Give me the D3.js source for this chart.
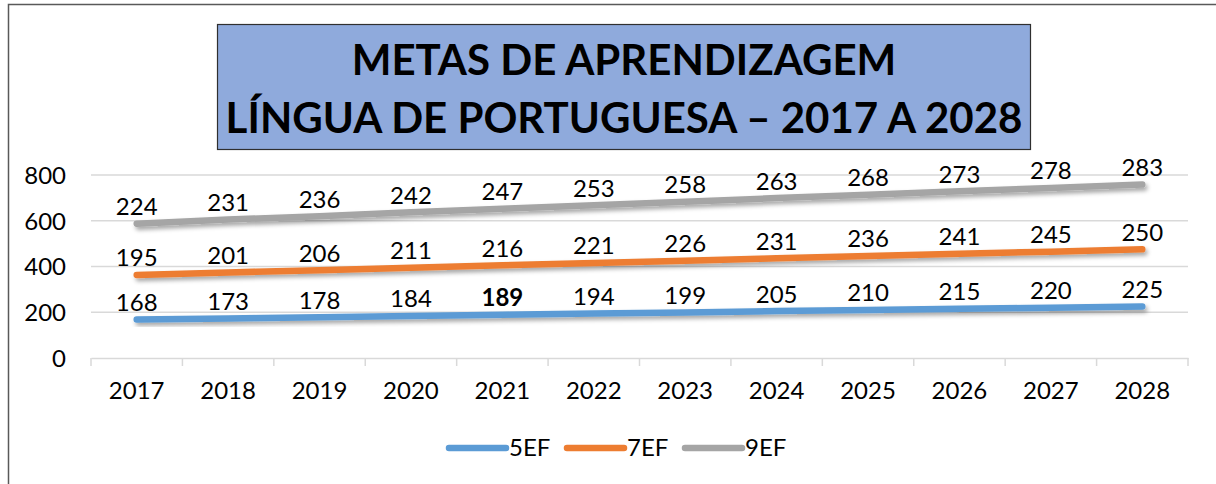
<!DOCTYPE html>
<html>
<head>
  <meta charset="utf-8">
  <title>Metas de Aprendizagem - Língua Portuguesa</title>
  <style>
    html, body { margin: 0; padding: 0; background: #fff; overflow: hidden; }
    text { font-family: Lato, "Open Sans", sans-serif; fill: #000; }
    .grid line { stroke: #D9D9D9; stroke-width: 1.5px; }
  </style>
</head>
<body>
  <svg id="chart" width="1216" height="484"></svg>
  <script src="https://d3js.org/d3.v7.min.js"></script>
  <script>
    // Chart data
    const years = ["2017", "2018", "2019", "2020", "2021", "2022", "2023", "2024", "2025", "2026", "2027", "2028"];
    const seriesNames = ["5EF", "7EF", "9EF"];
    const values5EF = [168, 173, 178, 184, 189, 194, 199, 205, 210, 215, 220, 225];
    const values7EF = [195, 201, 206, 211, 216, 221, 226, 231, 236, 241, 245, 250];
    const values9EF = [224, 231, 236, 242, 247, 253, 258, 263, 268, 273, 278, 283];
    const yTicks = [0, 200, 400, 600, 800];
    const titleLines = ["METAS DE APRENDIZAGEM", "LÍNGUA DE PORTUGUESA – 2017 A 2028"];
    const colors = ["#5B9BD5", "#ED7D31", "#A5A5A5"];

    const fontSize = "24px";
    const svg = d3.select("#chart");

    // outer chart frame
    svg.append("rect")
      .attr("x", 8.5).attr("y", 4.5)
      .attr("width", 1230).attr("height", 500)
      .attr("fill", "#fff")
      .attr("stroke", "#595959")
      .attr("stroke-width", 1.5);

    // shadow filter for lines
    const defs = svg.append("defs");
    const f = defs.append("filter").attr("id", "shadow")
      .attr("x", "-5%").attr("y", "-50%").attr("width", "110%").attr("height", "200%");
    f.append("feDropShadow")
      .attr("dx", 2).attr("dy", 3).attr("stdDeviation", 2)
      .attr("flood-color", "#000").attr("flood-opacity", 0.35);

    // title box
    svg.append("rect")
      .attr("x", 217.5).attr("y", 24.5)
      .attr("width", 813).attr("height", 125)
      .attr("fill", "#8FAADC")
      .attr("stroke", "#2F2F2F")
      .attr("stroke-width", 1.2);

    titleLines.forEach((t, i) => {
      svg.append("text")
        .attr("x", 624)
        .attr("y", 75 + i * 58)
        .attr("text-anchor", "middle")
        .style("font-size", "42px")
        .style("font-weight", "bold")
        .text(t);
    });

    // scales
    const x = d3.scaleBand().domain(years).range([91, 1188]);
    const y = d3.scaleLinear().domain([0, 800]).range([358, 175]);

    // gridlines
    svg.append("g").attr("class", "grid")
      .selectAll("line")
      .data(yTicks.filter(d => d > 0))
      .join("line")
      .attr("x1", 91).attr("x2", 1188)
      .attr("y1", d => y(d)).attr("y2", d => y(d));

    // y axis labels
    const yAxis = svg.append("g")
      .attr("transform", "translate(66,0)")
      .call(d3.axisLeft(y).tickValues(yTicks).tickSize(0).tickPadding(0));
    yAxis.select(".domain").remove();
    yAxis.selectAll("text")
      .style("font-size", fontSize)
      .style("font-family", "Lato, sans-serif")
      .attr("dy", "0.35em");

    // x axis
    const xAxis = svg.append("g")
      .attr("transform", "translate(0,358)")
      .call(d3.axisBottom(x).tickSize(0).tickPadding(24));
    xAxis.select(".domain").attr("stroke", "#D9D9D9").attr("stroke-width", 1.5);
    xAxis.selectAll("text")
      .style("font-size", fontSize)
      .style("font-family", "Lato, sans-serif");
    // tick marks at band boundaries
    const bounds = years.map(d => x(d)).concat([x.range()[1]]);
    xAxis.selectAll("line.bound")
      .data(bounds)
      .join("line")
      .attr("class", "bound")
      .attr("x1", d => d).attr("x2", d => d)
      .attr("y1", 0).attr("y2", 8)
      .attr("stroke", "#D9D9D9").attr("stroke-width", 1.5);

    // stacked series
    const table = years.map((yr, i) => ({
      year: yr, "5EF": values5EF[i], "7EF": values7EF[i], "9EF": values9EF[i]
    }));
    const stacked = d3.stack().keys(seriesNames)(table);

    const line = d3.line()
      .x(d => x(d.data.year) + x.bandwidth() / 2)
      .y(d => y(d[1]));

    svg.append("g")
      .selectAll("path")
      .data(stacked)
      .join("path")
      .attr("d", d => line(d))
      .attr("fill", "none")
      .attr("stroke", (d, i) => colors[i])
      .attr("stroke-width", 6.5)
      .attr("stroke-linecap", "round")
      .attr("filter", "url(#shadow)");

    // data labels
    stacked.forEach(s => {
      svg.append("g")
        .selectAll("text")
        .data(s)
        .join("text")
        .attr("x", d => x(d.data.year) + x.bandwidth() / 2)
        .attr("y", d => y(d[1]) - 17)
        .attr("dy", "0.35em")
        .attr("text-anchor", "middle")
        .style("font-size", fontSize)
        .style("font-weight", d => (s.key === "5EF" && d.data.year === "2021") ? "bold" : "normal")
        .text(d => d.data[s.key]);
    });

    // legend
    const legendX = [449, 567, 685];
    const legend = svg.append("g");
    seriesNames.forEach((name, i) => {
      legend.append("line")
        .attr("x1", legendX[i]).attr("x2", legendX[i] + 57)
        .attr("y1", 448).attr("y2", 448)
        .attr("stroke", colors[i])
        .attr("stroke-width", 6.5)
        .attr("stroke-linecap", "round");
      legend.append("text")
        .attr("x", legendX[i] + 60)
        .attr("y", 448)
        .attr("dy", "0.35em")
        .style("font-size", fontSize)
        .text(name);
    });
  </script>
</body>
</html>
